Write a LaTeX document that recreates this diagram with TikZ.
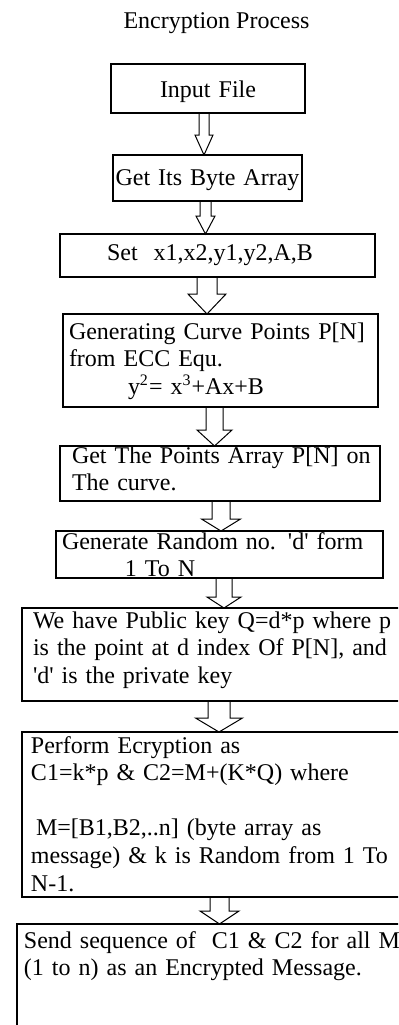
\documentclass[tikz,border=0pt]{standalone}
\usepackage{fontspec}
\setmainfont{Liberation Serif}
\usetikzlibrary{positioning,calc}

\begin{document}
\begin{tikzpicture}[
    x=0.5pt, y=-0.5pt,
    font=\fontsize{12}{13.8}\selectfont,
    stage/.style={draw, rectangle, line width=0.6pt, outer sep=0pt, inner ysep=0pt, align=left},
    hollow/.style n args={3}{line width=0.5pt, to path={let \p1=(\tikztostart), \p2=(\tikztotarget) in
      (\x1-#1pt,\y1) -- (\x1-#1pt,\y2+#3pt) -- (\x1-#2pt,\y2+#3pt) -- (\x1,\y2)
      -- (\x1+#2pt,\y2+#3pt) -- (\x1+#1pt,\y2+#3pt) -- (\x1+#1pt,\y1)}}
]
  \useasboundingbox (0,0) rectangle (398,1025);
  \clip (0,0) rectangle (398,1025);

  % Heading
  \node (title) at (216.5,28) [anchor=base] {Encryption Process};

  % Stages, top to bottom
  \node (infile) at (208,64) [stage, anchor=north, align=center, text width=97pt, inner xsep=0pt, text height=16.5pt, text depth=8pt] {Input File};
  \node (bytes) [stage, below=21pt of infile, xshift=-0.25pt, align=center, text width=94.5pt, inner xsep=0pt, text height=15pt, text depth=8pt] {Get Its Byte Array};
  \node (params) [stage, below=16.5pt of bytes, xshift=5pt, text width=110.5pt, inner xsep=23.5pt, text height=13pt, text depth=8.5pt] {Set~ x1,x2,y1,y2,A,B};
  \node (curve) [stage, below=18.5pt of params, xshift=1.5pt, text width=151.5pt, inner xsep=3pt, text height=12.5pt, text depth=34pt]
    {Generating Curve Points P[N]\\ from ECC Equ.\\ \hspace*{29.5pt}y\textsuperscript{2}= x\textsuperscript{3}+Ax+B};
  \node (points) [stage, below=19.5pt of curve, xshift=-0.25pt, text width=152pt, inner xsep=4pt, text height=8.5pt, text depth=19pt]
    {\hspace*{2pt}Get The Points Array P[N] on\\ \hspace*{2pt}The curve.};
  \node (random) [stage, below=15pt of points, xshift=-0.25pt, text width=157.5pt, inner xsep=3pt, text height=9pt, text depth=14.5pt]
    {Generate Random no. \textquotesingle d\textquotesingle{} form\\ \hspace*{31.5pt}1 To N};
  \node (pubkey) [stage, below=15pt of random, xshift=1.25pt, text width=189pt, inner xsep=5.5pt, text height=10pt, text depth=36.5pt]
    {We have Public key Q=d*p where p\\ is the point at d index Of P[N], and\\ \textquotesingle d\textquotesingle{} is the private key};
  \node (encrypt) [stage, below=15.5pt of pubkey, text width=191pt, inner xsep=4.5pt, text height=10.5pt, text depth=72pt]
    {Perform Ecryption as\\ C1=k*p \& C2=M+(K*Q) where\\[13.8pt] \hspace*{2.5pt}M=[B1,B2,..n] (byte array as\\ message) \& k is Random from 1 To\\ N-1.};
  \node (send) [stage, below=13.5pt of encrypt, xshift=-2.5pt, text width=193pt, inner xsep=3.5pt, text height=12pt, text depth=46pt]
    {Send sequence of~ C1 \& C2 for all M\\ (1 to n) as an Encrypted Message.};

  % Block arrows between stages
  \draw[hollow={2.5}{4.5}{10}] ([xshift=46.5pt]infile.south west) to (bytes.north);
  \draw[hollow={2.75}{4.75}{9}] ([xshift=46.25pt]bytes.south west) to (params.north);
  \draw[hollow={5}{9.5}{10}] ([xshift=73.5pt]params.south west) to (curve.north);
  \draw[hollow={4.25}{8.75}{8}] ([xshift=75.75pt]curve.south west) to (points.north);
  \draw[hollow={4.5}{9.75}{6}] ([xshift=80.5pt]points.south west) to (random.north);
  \draw[hollow={4}{8.5}{5.5}] ([xshift=84pt]random.south west) to (pubkey.north);
  \draw[hollow={5.5}{11.75}{7}] ([xshift=98.5pt]pubkey.south west) to (encrypt.north);
  \draw[hollow={4.75}{9.75}{6.5}] ([xshift=98.75pt]encrypt.south west) to (send.north);
\end{tikzpicture}
\end{document}
